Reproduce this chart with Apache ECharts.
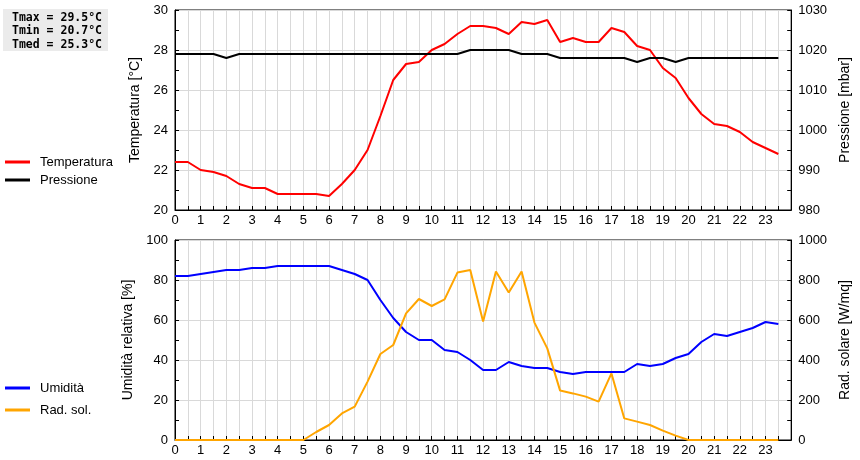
<!DOCTYPE html>
<html>
<head>
<meta charset="utf-8">
<script src="https://cdn.jsdelivr.net/npm/echarts@6/dist/echarts.min.js"></script>
<style>html,body{margin:0;padding:0;background:#fff;overflow:hidden;width:860px;height:460px}#c{width:860px;height:460px}</style>
</head>
<body>
<div id="c"></div>
<script>
var hours = [0,0.5,1,1.5,2,2.5,3,3.5,4,4.5,5,5.5,6,6.5,7,7.5,8,8.5,9,9.5,10,10.5,11,11.5,
             12,12.5,13,13.5,14,14.5,15,15.5,16,16.5,17,17.5,18,18.5,19,19.5,20,20.5,21,21.5,22,22.5,23,23.5];
var temperatura = [22.4,22.4,22.0,21.9,21.7,21.3,21.1,21.1,20.8,20.8,20.8,20.8,20.7,21.3,22.0,23.0,24.7,26.5,27.3,27.4,28.0,28.3,28.8,29.2,
                   29.2,29.1,28.8,29.4,29.3,29.5,28.4,28.6,28.4,28.4,29.1,28.9,28.2,28.0,27.1,26.6,25.6,24.8,24.3,24.2,23.9,23.4,23.1,22.8];
var pressione = [1019,1019,1019,1019,1018,1019,1019,1019,1019,1019,1019,1019,1019,1019,1019,1019,1019,1019,1019,1019,1019,1019,1019,1020,
                 1020,1020,1020,1019,1019,1019,1018,1018,1018,1018,1018,1018,1017,1018,1018,1017,1018,1018,1018,1018,1018,1018,1018,1018];
var umidita = [82,82,83,84,85,85,86,86,87,87,87,87,87,85,83,80,70,61,54,50,50,45,44,40,
               35,35,39,37,36,36,34,33,34,34,34,34,38,37,38,41,43,49,53,52,54,56,59,58];
var radSol = [0,0,0,0,0,0,0,0,0,0,0,40,75,133,167,292,430,475,633,705,670,703,837,850,
              592,842,737,842,587,458,247,233,217,192,333,108,92,75,47,22,0,0,0,0,0,0,0,0];
var statLines = ['Tmax = 29.5°C', 'Tmin = 20.7°C', 'Tmed = 25.3°C'];

function pairs(ys){ return hours.map(function(h,i){ return [h, ys[i]]; }); }

var FONT = 'Liberation Sans';
var gridLine = {show:true, lineStyle:{color:'#d9d9d9', width:1}};

function xAxis(gi){
  return {
    type:'value', gridIndex:gi, min:0, max:24, interval:0.5,
    axisLine:{show:true, lineStyle:{color:'#000', width:1}},
    axisTick:{show:true, inside:true, length:4, lineStyle:{color:'#000'}},
    axisLabel:{color:'#000', fontFamily:FONT, fontSize:13, margin:4,
      formatter:function(v){ return (Math.abs(v-Math.round(v))<1e-6 && v<24) ? String(Math.round(v)) : ''; }},
    splitLine:gridLine
  };
}
function yAxis(gi, pos, min, max, interval, name, gap, split){
  return {
    type:'value', gridIndex:gi, position:pos, min:min, max:max, interval:interval,
    name:name, nameLocation:'middle', nameGap:gap, nameRotate:90,
    nameTextStyle:{color:'#000', fontFamily:FONT, fontSize:14},
    axisLine:{show:true, lineStyle:{color:'#000', width:1}},
    axisTick:{show:true, inside:true, length:4, lineStyle:{color:'#000'}},
    minorTick:{show:true, splitNumber:2, length:4, lineStyle:{color:'#000'}},
    axisLabel:{color:'#000', fontFamily:FONT, fontSize:13, margin:7,
      formatter:function(v){ return String(v); }},
    splitLine: split ? gridLine : {show:false}
  };
}

var chart = echarts.init(document.getElementById('c'), null, {renderer:'canvas', width:860, height:460});
chart.setOption({
  backgroundColor:'#fff',
  animation:false,
  grid:[
    {left:175, width:627, top:10, height:200, show:true, borderColor:'#000', borderWidth:1, backgroundColor:'transparent'},
    {left:175, width:627, top:240, height:200, show:true, borderColor:'#000', borderWidth:1, backgroundColor:'transparent'}
  ],
  xAxis:[xAxis(0), xAxis(1)],
  yAxis:[
    yAxis(0,'left',20,30,2,'Temperatura [°C]',32,true),
    yAxis(0,'right',980,1030,10,'Pressione [mbar]',42,false),
    yAxis(1,'left',0,100,20,'Umidità relativa [%]',32,true),
    yAxis(1,'right',0,1000,200,'Rad. solare [W/mq]',42,false)
  ],
  legend:[
    {data:['Temperatura','Pressione'], orient:'vertical', left:5, top:155, padding:0, itemWidth:25, itemHeight:3, itemGap:4,
     icon:'rect', textStyle:{color:'#000', fontFamily:FONT, fontSize:13, lineHeight:14, padding:[0,0,0,5]}},
    {data:['Umidità','Rad. sol.'], orient:'vertical', left:5, top:381, padding:0, itemWidth:25, itemHeight:3, itemGap:8,
     icon:'rect', textStyle:{color:'#000', fontFamily:FONT, fontSize:13, lineHeight:14, padding:[0,0,0,5]}}
  ],
  graphic:[
    {type:'rect', left:3, top:9, shape:{width:105, height:42}, style:{fill:'#ebebeb'}, silent:true},
    {type:'text', left:12, top:11, style:{text:statLines.join('\n'), fill:'#000',
      font:'bold 11.5px "DejaVu Sans Mono"', lineHeight:13.5}}
  ],
  series:[
    {name:'Temperatura', type:'line', xAxisIndex:0, yAxisIndex:0, data:pairs(temperatura), showSymbol:false, symbol:'none',
     lineStyle:{color:'#ff0000', width:2}, itemStyle:{color:'#ff0000'}},
    {name:'Pressione', type:'line', xAxisIndex:0, yAxisIndex:1, data:pairs(pressione), showSymbol:false, symbol:'none',
     lineStyle:{color:'#000000', width:2}, itemStyle:{color:'#000000'}},
    {name:'Umidità', type:'line', xAxisIndex:1, yAxisIndex:2, data:pairs(umidita), showSymbol:false, symbol:'none',
     lineStyle:{color:'#0000ff', width:2}, itemStyle:{color:'#0000ff'}},
    {name:'Rad. sol.', type:'line', xAxisIndex:1, yAxisIndex:3, data:pairs(radSol), showSymbol:false, symbol:'none',
     lineStyle:{color:'#ffa500', width:2}, itemStyle:{color:'#ffa500'}}
  ]
});
</script>
</body>
</html>
